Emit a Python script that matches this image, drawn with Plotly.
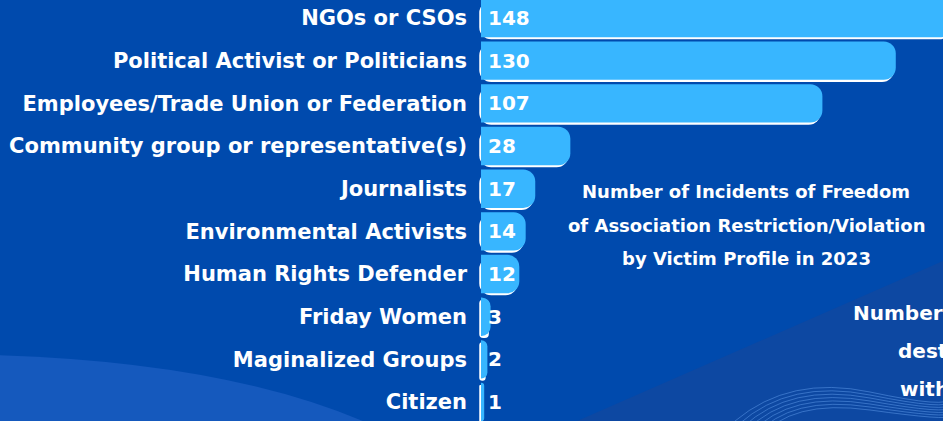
import plotly.graph_objects as go

categories = [
    "NGOs or CSOs",
    "Political Activist or Politicians",
    "Employees/Trade Union or Federation",
    "Community group or representative(s)",
    "Journalists",
    "Environmental Activists",
    "Human Rights Defender",
    "Friday Women",
    "Maginalized Groups",
    "Citizen",
]
values = [148, 130, 107, 28, 17, 14, 12, 3, 2, 1]

title_lines = ["Number of Incidents of Freedom",
               "of Association Restriction/Violation",
               "by Victim Profile in 2023"]
side_lines = ["Number", "dest", "with"]

W, H = 943, 421
ML = 476
PW = W - ML
FONT = "DejaVu Sans"


def px(x):
    return (x - ML) / PW


def py(y):
    return 1 - y / H


BG = "#004aad"
BAR = "#38b6ff"

fig = go.Figure()

# white shadow bars
fig.add_trace(go.Bar(
    y=categories, x=values, base=-0.55, orientation="h",
    width=0.9, offset=-0.45 + 0.05,
    marker=dict(color="white", cornerradius=12, line=dict(width=0)),
    hoverinfo="skip", showlegend=False,
))
# main bars
fig.add_trace(go.Bar(
    y=categories, x=values, orientation="h",
    width=0.9, offset=-0.45,
    marker=dict(color=BAR, cornerradius=12, line=dict(width=0)),
    showlegend=False,
))

shapes = [
    dict(type="path", xref="paper", yref="paper", layer="below",
         path=f"M {px(-5)} {py(355)} Q {px(230)} {py(362)} {px(372)} {py(425)} L {px(-5)} {py(425)} Z",
         fillcolor="#1559bd", line=dict(width=0)),
    dict(type="path", xref="paper", yref="paper", layer="below",
         path=f"M {px(568)} {py(425)} L {px(950)} {py(258)} L {px(950)} {py(425)} Z",
         fillcolor="#0d48a2", line=dict(width=0)),
]
for i in range(7):
    y0 = 421 + i * 3
    shapes.append(dict(type="path", xref="paper", yref="paper", layer="below",
                       path=f"M {px(735 + i*4)} {py(y0)} Q {px(790)} {py(375 + i*4)} {px(870)} {py(392 + i*3)} T {px(950)} {py(398 + i*3)}",
                       line=dict(color="rgba(90,150,230,0.55)", width=1)))

annotations = []
# value labels (from data)
for c, v in zip(categories, values):
    annotations.append(dict(
        x=0, y=c, xref="x", yref="y", text=str(v), showarrow=False,
        xanchor="left", yanchor="middle", xshift=5,
        font=dict(family=FONT, size=20, color="white", weight="bold"),
    ))
for i, t in enumerate(title_lines):
    annotations.append(dict(
        xref="paper", yref="paper", x=px(746), y=py(192 + i * 33),
        text=t, showarrow=False, xanchor="center", yanchor="middle",
        font=dict(family=FONT, size=18, color="white", weight="bold"),
    ))
side_x = [851, 896, 898]
for i, t in enumerate(side_lines):
    annotations.append(dict(
        xref="paper", yref="paper", x=px(side_x[i]), y=py(313 + i * 38),
        text=t, showarrow=False, xanchor="left", yanchor="middle",
        font=dict(family=FONT, size=20, color="white", weight="bold"),
    ))

fig.update_layout(
    width=W, height=H,
    margin=dict(l=ML, r=0, t=0, b=0),
    paper_bgcolor=BG, plot_bgcolor="rgba(0,0,0,0)",
    barmode="overlay",
    shapes=shapes, annotations=annotations,
    xaxis=dict(range=[-1.57, 144.8], visible=False, showgrid=False, zeroline=False),
    yaxis=dict(type="category", categoryorder="array", categoryarray=categories,
               range=[9.445, -0.422], showgrid=False, zeroline=False,
               ticks="", ticklabelstandoff=8,
               tickfont=dict(family=FONT, size=21, color="white", weight="bold")),
    font=dict(family=FONT, color="white"),
)

fig.write_html("out.html", config={"displayModeBar": False},
               post_script="document.body.style.margin='0';document.body.style.overflow='hidden';")
